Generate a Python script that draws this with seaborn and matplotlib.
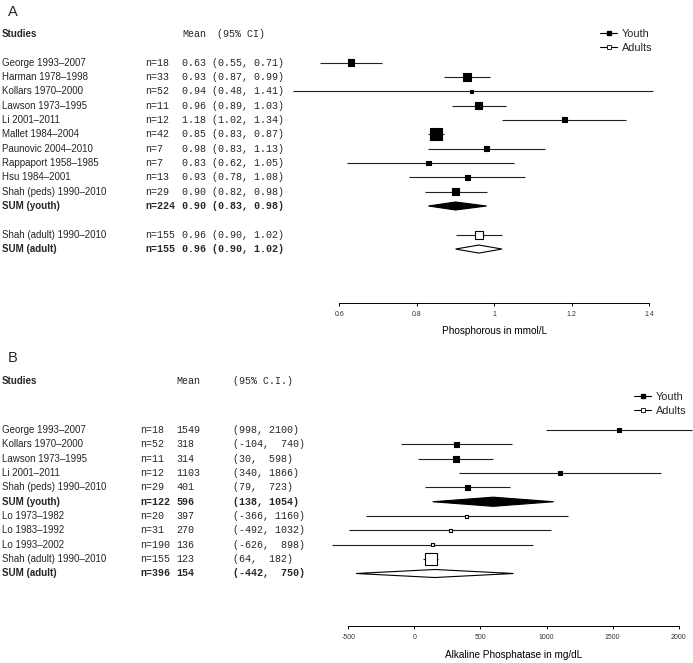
import numpy as np
import matplotlib
matplotlib.use("Agg")
import matplotlib.pyplot as plt
import matplotlib.transforms as mtransforms
from matplotlib.lines import Line2D
import seaborn as sns

# ---------------- Panel A: phosphorous (mmol/L) ----------------
studies_a = ["George 1993–2007", "Harman 1978–1998", "Kollars 1970–2000",
             "Lawson 1973–1995", "Li 2001–2011", "Mallet 1984–2004",
             "Paunovic 2004–2010", "Rappaport 1958–1985", "Hsu 1984–2001",
             "Shah (peds) 1990–2010", "Shah (adult) 1990–2010"]
group_a = ["youth"] * 10 + ["adult"]
n_a = [18, 33, 52, 11, 12, 42, 7, 7, 13, 29, 155]
mean_a = [0.63, 0.93, 0.94, 0.96, 1.18, 0.85, 0.98, 0.83, 0.93, 0.90, 0.96]
lo_a = [0.55, 0.87, 0.48, 0.89, 1.02, 0.83, 0.83, 0.62, 0.78, 0.82, 0.90]
hi_a = [0.71, 0.99, 1.41, 1.03, 1.34, 0.87, 1.13, 1.05, 1.08, 0.98, 1.02]
weight_a = [6.7, 8, 3, 6.7, 5, 11.7, 5.3, 4.3, 5, 6.7, 7.3]  # box side, px

sum_names_a = ["SUM (youth)", "SUM (adult)"]
sum_n_a = [224, 155]
sum_mean_a = [0.90, 0.96]
sum_lo_a = [0.83, 0.90]
sum_hi_a = [0.98, 1.02]

ticks_a = [0.6, 0.8, 1.0, 1.2, 1.4]
tick_labels_a = ["0.6", "0.8", "1", "1.2", "1.4"]

# ---------------- Panel B: alkaline phosphatase ----------------
studies_b = ["George 1993–2007", "Kollars 1970–2000", "Lawson 1973–1995",
             "Li 2001–2011", "Shah (peds) 1990–2010", "Lo 1973–1982",
             "Lo 1983–1992", "Lo 1993–2002", "Shah (adult) 1990–2010"]
group_b = ["youth"] * 5 + ["adult"] * 4
n_b = [18, 52, 11, 12, 29, 20, 31, 190, 155]
mean_b = [1549, 318, 314, 1103, 401, 397, 270, 136, 123]
lo_b = [998, -104, 30, 340, 79, -366, -492, -626, 64]
hi_b = [2100, 740, 598, 1866, 723, 1160, 1032, 898, 182]
weight_b = [4.5, 4.7, 6, 3.5, 5.5, 3, 3, 3, 12]  # box side, px

sum_names_b = ["SUM (youth)", "SUM (adult)"]
sum_n_b = [122, 396]
sum_mean_b = [596, 154]
sum_lo_b = [138, -442]
sum_hi_b = [1054, 750]

ticks_b = [-500, 0, 500, 1000, 1500, 2000]
tick_labels_b = ["-500", "0", "500", "1000", "1500", "2000"]

W, H = 693, 663
STEP = 14.35  # row height in px
PX = 100 / 72  # px per point

sns.set_theme(style="white")
plt.rcParams["font.family"] = ["Liberation Sans", "DejaVu Sans"]
MONO = ["Liberation Mono", "DejaVu Sans Mono"]


def make_axes(fig, left, right, top, bottom, row0, xlim):
    ax = fig.add_axes([left / W, 1 - bottom / H, (right - left) / W, (bottom - top) / H])
    ax.set_xlim(*xlim)
    ax.set_ylim((bottom - row0) / STEP, (top - row0) / STEP)
    sns.despine(ax=ax, left=True)
    ax.spines["bottom"].set_color("black")
    ax.spines["bottom"].set_linewidth(0.7)
    ax.set_yticks([])
    ax.tick_params(axis="x", bottom=True, length=2.5, width=0.7, color="black",
                   labelsize=5, pad=3.5, labelcolor="#333333")
    return ax


def draw_studies(ax, rows, mean, lo, hi, weight, group):
    df = {"mean": np.array(mean), "row": np.array(rows, dtype=float),
          "lo": np.array(lo), "hi": np.array(hi),
          "s": (np.array(weight) / PX) ** 2, "group": np.array(group)}
    ax.hlines(df["row"], df["lo"], df["hi"], color="#222222", lw=0.8, clip_on=False)
    for g, face in [("youth", "black"), ("adult", "white")]:
        m = df["group"] == g
        sns.scatterplot(x=df["mean"][m], y=df["row"][m], s=df["s"][m], marker="s",
                        color=face, edgecolor="black", linewidth=0.8, ax=ax,
                        zorder=3, clip_on=False)


def draw_diamond(ax, row, lo, mean, hi, half, face):
    ax.fill([lo, mean, hi, mean], [row, row - half, row, row + half],
            facecolor=face, edgecolor="black", lw=0.8, zorder=3, clip_on=False)


def add_legend(ax, x_px, top_px):
    handles = [Line2D([], [], color="black", lw=0.8, marker="s", markersize=2.4,
                      markerfacecolor="black", markeredgecolor="black"),
               Line2D([], [], color="black", lw=0.8, marker="s", markersize=2.4,
                      markerfacecolor="white", markeredgecolor="black", markeredgewidth=0.6)]
    ax.legend(handles, ["Youth", "Adults"], loc="upper left",
              bbox_to_anchor=(x_px / W, 1 - top_px / H), bbox_transform=fig.transFigure,
              frameon=False, fontsize=7.8, handlelength=1.6, handletextpad=0.4,
              labelspacing=0.35, borderpad=0, borderaxespad=0)


fig = plt.figure(figsize=(W / 100, H / 100), dpi=100)

# ---------------- Panel A ----------------
axA = make_axes(fig, 339.3, 649.3, 25, 302.7, 62.5, (0.6, 1.4))
rows_y = list(range(10))
rows_study_a = rows_y + [12]
draw_studies(axA, rows_study_a, mean_a, lo_a, hi_a, weight_a, group_a)
draw_diamond(axA, 10, sum_lo_a[0], sum_mean_a[0], sum_hi_a[0], 0.28, "black")
draw_diamond(axA, 13, sum_lo_a[1], sum_mean_a[1], sum_hi_a[1], 0.28, "white")
axA.set_xticks(ticks_a)
axA.set_xticklabels(tick_labels_a)
axA.set_xlabel("Phosphorous in mmol/L", fontsize=7.2, labelpad=6, color="black")
add_legend(axA, 600, 29)

tA = mtransforms.blended_transform_factory(fig.transFigure, axA.transData)
fig.text(8 / W, 1 - 12 / H, "A", fontsize=10.5, va="center", ha="left")
axA.text(2 / W, -2, "Studies", transform=tA, fontsize=7, fontweight="bold", va="center")
axA.text(182 / W, -2, "Mean", transform=tA, fontsize=7.2, family=MONO, va="center")
axA.text(217 / W, -2, "(95% CI)", transform=tA, fontsize=7.2, family=MONO, va="center")
for name, n, m, lo, hi, r in zip(studies_a, n_a, mean_a, lo_a, hi_a, rows_study_a):
    axA.text(2 / W, r, name, transform=tA, fontsize=7, va="center")
    axA.text(145 / W, r, f"n={n}", transform=tA, fontsize=7.2, family=MONO, va="center")
    axA.text(182 / W, r, f"{m:.2f} ({lo:.2f}, {hi:.2f})", transform=tA, fontsize=7.2,
             family=MONO, va="center")
for name, n, m, lo, hi, r in zip(sum_names_a, sum_n_a, sum_mean_a, sum_lo_a, sum_hi_a, [10, 13]):
    axA.text(2 / W, r, name, transform=tA, fontsize=7, fontweight="bold", va="center")
    axA.text(145 / W, r, f"n={n}", transform=tA, fontsize=7.2, family=MONO,
             fontweight="bold", va="center")
    axA.text(182 / W, r, f"{m:.2f} ({lo:.2f}, {hi:.2f})", transform=tA, fontsize=7.2,
             family=MONO, fontweight="bold", va="center")

# ---------------- Panel B ----------------
axB = make_axes(fig, 348.3, 678.7, 372, 625.7, 430, (-500, 2000))
rows_study_b = [0, 1, 2, 3, 4, 6, 7, 8, 9]
draw_studies(axB, rows_study_b, mean_b, lo_b, hi_b, weight_b, group_b)
draw_diamond(axB, 5, sum_lo_b[0], sum_mean_b[0], sum_hi_b[0], 0.32, "black")
draw_diamond(axB, 10, sum_lo_b[1], sum_mean_b[1], sum_hi_b[1], 0.28, "white")
axB.set_xticks(ticks_b)
axB.set_xticklabels(tick_labels_b)
axB.set_xlabel("Alkaline Phosphatase in mg/dL", fontsize=7.2, labelpad=6.5, color="black")
add_legend(axB, 634, 392)

tB = mtransforms.blended_transform_factory(fig.transFigure, axB.transData)
fig.text(8 / W, 1 - 358 / H, "B", fontsize=10.5, va="center", ha="left")
hdr = (381 - 430) / STEP
axB.text(2 / W, hdr, "Studies", transform=tB, fontsize=7, fontweight="bold", va="center")
axB.text(176 / W, hdr, "Mean", transform=tB, fontsize=7.2, family=MONO, va="center")
axB.text(233 / W, hdr, "(95% C.I.)", transform=tB, fontsize=7.2, family=MONO, va="center")
for name, n, m, lo, hi, r in zip(studies_b, n_b, mean_b, lo_b, hi_b, rows_study_b):
    axB.text(2 / W, r, name, transform=tB, fontsize=7, va="center")
    axB.text(140 / W, r, f"n={n}", transform=tB, fontsize=7.2, family=MONO, va="center")
    axB.text(176 / W, r, f"{m}", transform=tB, fontsize=7.2, family=MONO, va="center")
    axB.text(233 / W, r, f"({lo}, {hi:4d})", transform=tB, fontsize=7.2, family=MONO, va="center")
for name, n, m, lo, hi, r in zip(sum_names_b, sum_n_b, sum_mean_b, sum_lo_b, sum_hi_b, [5, 10]):
    axB.text(2 / W, r, name, transform=tB, fontsize=7, fontweight="bold", va="center")
    axB.text(140 / W, r, f"n={n}", transform=tB, fontsize=7.2, family=MONO,
             fontweight="bold", va="center")
    axB.text(176 / W, r, f"{m}", transform=tB, fontsize=7.2, family=MONO,
             fontweight="bold", va="center")
    axB.text(233 / W, r, f"({lo}, {hi:4d})", transform=tB, fontsize=7.2, family=MONO,
             fontweight="bold", va="center")

fig.savefig("out.png", dpi=100)
